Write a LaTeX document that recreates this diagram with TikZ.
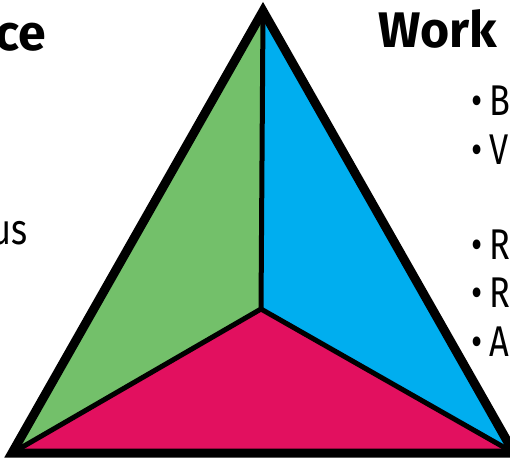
\documentclass[tikz,border=0pt]{standalone}
\usepackage{fontspec}
\setmainfont{Fira Sans}
\newfontfamily\condfont[FakeStretch=0.8]{Fira Sans}
\definecolor{leafgreen}{RGB}{115,192,106}
\definecolor{skyblue}{RGB}{0,174,239}
\definecolor{rosepink}{RGB}{226,16,95}
\begin{document}
\begin{tikzpicture}[x=1pt,y=-1pt,
  head/.style={inner sep=0pt,font=\fontsize{50}{50}\selectfont\bfseries},
  item/.style={inner sep=0pt,anchor=base west,font=\fontsize{43}{43}\selectfont\condfont},
  split/.style={draw=black,line width=5pt,line join=round}]
\useasboundingbox (0,0) rectangle (510,467);
\clip (0,0) rectangle (510,467);
% corners of the triangle and its middle
\coordinate (top) at (263,11);
\coordinate (left) at (12,453);
\coordinate (right) at (514,453);
\coordinate (mid) at (261,309);
\fill[leafgreen] (top) -- (mid) -- (left) -- cycle;
\fill[skyblue] (top) -- (right) -- (mid) -- cycle;
\fill[rosepink] (left) -- (mid) -- (right) -- cycle;
\draw[split] (top) -- (mid) -- (left);
\draw[split] (mid) -- (right);
\draw[line width=9pt,line join=miter] (top) -- (left) -- (right) -- cycle;
% labels
\node[head,anchor=base east](lefthead) at (46,50) {ce};
\node[head,anchor=base west](work) at (378,47) {Work};
\node[item,anchor=base east](leftline) at (28,244) {us};
\node[item](b1) at (471,115) {\textbullet\,B};
\node[item](b2) at (471,164) {\textbullet\,V};
\node[item](b3) at (471,259) {\textbullet\,R};
\node[item](b4) at (471,307) {\textbullet\,R};
\node[item](b5) at (471,356) {\textbullet\,A};
\end{tikzpicture}
\end{document}
